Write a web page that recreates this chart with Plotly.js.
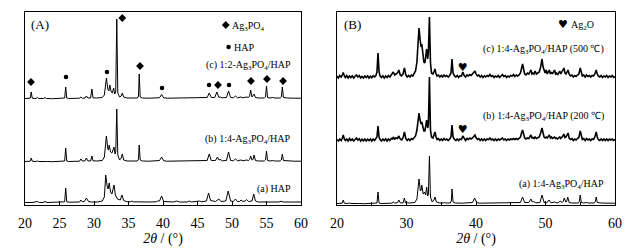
<!DOCTYPE html>
<html><head><meta charset="utf-8">
<script src="https://cdn.plot.ly/plotly-3.0.1.min.js"></script>
<style>html,body{margin:0;padding:0;background:#fff}#chart{width:639px;height:248px}</style>
</head><body><div id="chart"></div>
<script>
// ---- Data: [2theta (deg), relative intensity] ----
const A_c_12 = [[20,0.5],[20.6,0.5],[20.75,0.8],[20.9,7],[21.05,0.8],[21.6,0.5],[21.8,1.5],[22,0.5],[22.7,0.5],[22.9,1.5],[23.1,0.5],[24,0.3],[25.6,0.5],[25.75,1],[25.9,12],[26.05,1],[26.3,0.5],[27.5,0.5],[27.9,0.8],[28.1,2],[28.3,0.8],[28.7,1],[28.9,3],[29.1,1],[29.5,1],[29.7,10],[29.85,1.2],[30.4,1],[31.2,1.5],[31.5,4],[31.8,21],[32.0,10],[32.15,8],[32.3,14],[32.5,7],[32.65,6],[32.85,11],[33.0,5],[33.15,7],[33.3,80],[33.45,6],[33.7,2],[33.95,3],[34.1,6],[34.3,2],[34.8,1],[35.3,1],[35.5,1.5],[35.7,1],[36.3,1],[36.45,3],[36.55,25],[36.7,2],[37,1],[38,0.8],[39,1],[39.2,1.5],[39.5,1.3],[39.8,4.5],[40.1,1.2],[40.6,0.8],[41.5,0.8],[42,1.5],[42.4,0.8],[43.5,0.8],[43.8,1.5],[44.1,0.8],[45,1],[45.3,1.5],[45.6,1],[46.4,1.5],[46.7,6],[47,1.5],[47.5,1.5],[47.8,7],[48.1,1.5],[48.3,2],[48.6,1.2],[49.2,1.5],[49.5,8],[49.8,1.5],[50.2,1.2],[50.5,3],[50.8,1.2],[51.1,1.5],[51.3,2],[51.6,1.2],[51.9,1.5],[52.1,2],[52.4,1.5],[52.55,3],[52.7,9],[52.9,2],[53.2,5],[53.4,1.5],[53.8,1],[54.7,1],[54.85,2],[55,13],[55.15,1.5],[55.5,1],[55.9,1.5],[56.2,1],[57,1],[57.15,2],[57.3,12],[57.45,1.5],[58,1],[58.5,1.2],[59,0.8],[60,0.8]];
const A_b_14 = [[20,0.5],[20.6,0.5],[20.75,0.8],[20.9,4],[21.05,0.8],[21.6,0.5],[21.8,1],[22,0.5],[22.7,0.5],[22.9,1.2],[23.1,0.5],[24,0.3],[25.6,0.5],[25.75,1],[25.9,14],[26.05,1],[26.3,0.5],[27.5,0.5],[27.9,0.8],[28.1,3],[28.3,1],[28.7,1.2],[28.9,4],[29.1,1.2],[29.5,1],[29.7,6],[29.85,1.2],[30.4,1],[31.2,1.5],[31.5,5],[31.8,26],[32.0,13],[32.1,12],[32.2,17],[32.4,10],[32.6,9],[32.8,13],[32.9,15],[33.05,8],[33.15,10],[33.3,53],[33.45,7],[33.7,2],[33.95,4],[34.1,8],[34.3,2],[34.8,1],[35.3,1],[35.5,1.5],[35.7,1],[36.3,1],[36.45,3],[36.55,17],[36.7,2],[37,1],[38,0.8],[39,1],[39.2,1.5],[39.5,1.5],[39.8,5],[40.1,1.2],[40.6,0.8],[41.5,0.8],[42,1.5],[42.4,0.8],[43.5,0.8],[43.8,1.2],[44.1,0.8],[45,1],[45.3,1.2],[45.6,1],[46.4,1.5],[46.7,8],[47,1.5],[47.6,1.5],[47.9,5],[48.1,2],[48.3,2.5],[48.6,1.2],[49.2,1.5],[49.5,10],[49.8,1.5],[50.2,1.2],[50.5,3],[50.8,1.2],[51.1,1.5],[51.3,2],[51.6,1.2],[51.9,1.5],[52.1,2],[52.4,1.5],[52.55,2.5],[52.7,6],[52.9,2],[53.05,2.5],[53.2,7],[53.4,1.5],[53.8,1],[54.7,1],[54.85,2],[55,11],[55.15,1.5],[55.5,1],[55.9,1.5],[56.2,1],[57,1],[57.15,2],[57.3,8],[57.45,1.5],[58,1],[58.5,1.2],[59,0.8],[60,0.8]];
const A_a_HAP = [[20,0.5],[21,0.5],[21.8,1.5],[22.1,0.5],[22.6,0.5],[22.9,1.5],[23.2,0.5],[24,0.5],[25.6,0.5],[25.75,1.2],[25.9,15],[26.05,1.2],[26.4,0.8],[27.5,0.8],[27.9,1],[28.1,3],[28.3,1.2],[28.6,1.5],[28.9,5],[29.2,1.5],[29.6,1],[30.5,1],[31.2,2],[31.5,6],[31.7,28],[31.9,17],[32.05,14],[32.2,20],[32.4,11],[32.6,9],[32.8,16],[32.9,18],[33.1,8],[33.4,4],[33.8,3],[34.05,8],[34.3,2.5],[34.8,1.2],[35.3,1.2],[35.5,2],[35.7,1.2],[36.5,1],[38,1],[39,1.2],[39.2,2],[39.5,2],[39.8,7],[40.1,1.5],[40.7,1],[41.5,1],[42,2],[42.4,1],[43.5,1],[43.8,2],[44.1,1],[45,1.2],[45.3,2],[45.6,1.2],[46.3,2],[46.6,10],[46.9,2.5],[47.6,1.5],[48.1,4],[48.4,1.5],[49.1,2],[49.45,12],[49.8,2],[50.2,1.5],[50.5,4],[50.8,1.5],[51.1,1.5],[51.3,3],[51.6,1.5],[51.9,2],[52.1,3.5],[52.4,1.5],[52.9,2],[53.15,9],[53.4,2],[53.8,1],[55,1],[55.9,1.5],[56.2,1],[56.8,1],[57.1,1.8],[57.4,1],[58.5,1],[59.2,1],[60,1]];
const B_a_fresh = [[20,0.5],[20.6,0.5],[20.75,0.8],[20.9,4],[21.05,0.8],[21.6,0.5],[21.8,1],[22,0.5],[22.7,0.5],[22.9,1.2],[23.1,0.5],[24,0.3],[25.6,0.5],[25.75,1],[25.9,12],[26.05,1],[26.3,0.5],[27.5,0.5],[27.9,0.8],[28.1,2],[28.3,1],[28.7,1.2],[28.9,4],[29.1,1.2],[29.5,1],[29.7,6],[29.85,1.2],[30.4,1],[31.2,1.5],[31.5,5],[31.8,25],[32.0,13],[32.1,14],[32.2,19],[32.4,10],[32.6,12],[32.75,9],[32.9,17],[33.05,8],[33.15,10],[33.3,48],[33.45,7],[33.7,2],[33.95,4],[34.1,7],[34.3,2],[34.8,1],[35.3,1],[35.5,1.5],[35.7,1],[36.3,1],[36.45,3],[36.55,15],[36.7,2],[37,1],[38,0.8],[39,1],[39.2,1.5],[39.5,1.5],[39.8,6],[40.1,1.2],[40.6,0.8],[41.5,0.8],[42,1.5],[42.4,0.8],[43.5,0.8],[43.8,1.5],[44.1,0.8],[45,1],[45.3,1.2],[45.6,1],[46.4,1.5],[46.7,7],[47,1.5],[47.6,1.5],[47.9,5],[48.1,2],[48.3,2.5],[48.6,1.2],[49.2,1.5],[49.5,9],[49.8,1.5],[50.2,1.2],[50.5,4],[50.8,1.2],[51.1,1.5],[51.3,2],[51.6,1.2],[51.9,1.5],[52.1,3],[52.4,1.5],[52.55,2.5],[52.7,6],[52.9,2],[53.05,2.5],[53.2,7],[53.4,1.5],[53.8,1],[54.7,1],[54.85,2],[55,9],[55.15,1.5],[55.5,1],[55.9,1.5],[56.2,1],[57,1],[57.15,2],[57.3,7],[57.45,1.5],[58,1],[58.5,1.2],[59,0.8],[60,0.8]];
const B_b_200 = [[20,0.5],[20.2,-1],[20.4,1],[20.6,-0.5],[20.75,1.5],[20.9,5],[21.05,1],[21.2,-0.5],[21.4,1],[21.6,-1],[21.8,1.5],[22.0,-0.5],[22.2,1],[22.4,-1],[22.6,0.5],[22.8,2],[23.0,0],[23.2,1.2],[23.4,-1],[23.6,0.8],[23.8,-0.8],[24.0,1],[24.2,-1],[24.4,0.8],[24.6,-0.5],[24.8,1],[25.0,-1],[25.2,1],[25.4,-0.5],[25.6,1],[25.75,3],[25.9,14],[26.05,3],[26.2,0.5],[26.4,-1],[26.6,1],[26.8,-0.5],[27.0,1.2],[27.2,-1],[27.4,1],[27.6,-0.5],[27.8,1.5],[28.0,1],[28.1,3],[28.3,1],[28.5,2],[28.7,1.5],[28.9,4],[29.1,1],[29.3,0],[29.5,2],[29.7,8],[29.9,1.5],[30.1,-0.5],[30.3,1],[30.5,-0.5],[30.7,1.5],[30.9,0.5],[31.1,2],[31.3,4],[31.5,10],[31.65,20],[31.8,27],[31.95,20],[32.1,16],[32.2,18],[32.35,13],[32.5,9],[32.65,9],[32.8,17],[32.9,20],[33.05,12],[33.15,16],[33.3,63],[33.45,10],[33.6,3],[33.8,2],[33.95,5],[34.1,8],[34.25,3],[34.4,0.5],[34.6,1.5],[34.8,-0.5],[35.0,1],[35.2,-0.5],[35.4,1.5],[35.6,0],[35.8,1],[36.0,-0.5],[36.2,1],[36.4,3],[36.55,15],[36.7,3],[36.9,0.5],[37.1,-0.5],[37.3,1],[37.5,-0.5],[37.7,1],[37.9,0.5],[38.1,4],[38.3,1],[38.5,-0.5],[38.7,1.5],[38.9,0.5],[39.1,2],[39.3,1],[39.5,2],[39.7,4],[39.85,5],[40.0,2.5],[40.2,0.5],[40.4,1.5],[40.6,-0.5],[40.8,1],[41.0,-0.5],[41.2,1],[41.4,-0.5],[41.6,1],[41.8,0.5],[42.0,2],[42.2,0],[42.4,1],[42.6,-0.5],[42.8,1],[43.0,-0.5],[43.2,1],[43.4,0],[43.6,1],[43.8,2],[44.0,0],[44.2,1],[44.4,-0.5],[44.6,1],[44.8,0],[45.0,1],[45.2,0.5],[45.4,1.5],[45.6,0.5],[45.8,1.5],[46.0,0.5],[46.2,1.5],[46.4,3],[46.55,7],[46.7,10],[46.85,6],[47.0,2],[47.2,1],[47.4,2],[47.6,1.5],[47.75,3],[47.9,5],[48.05,2],[48.2,2.5],[48.35,1.5],[48.5,3],[48.7,1.5],[48.9,2],[49.1,3],[49.3,7],[49.5,12],[49.65,7],[49.8,3],[49.95,2],[50.1,3],[50.25,2],[50.4,4],[50.55,5],[50.7,2],[50.85,3],[51.0,1.5],[51.15,2.5],[51.3,3],[51.45,1.5],[51.6,2],[51.75,1],[51.9,2.5],[52.05,3],[52.2,1.5],[52.35,2.5],[52.5,4],[52.65,6],[52.8,2.5],[52.95,3],[53.1,5],[53.25,7],[53.4,2],[53.6,0.5],[53.8,1.5],[54.0,-0.5],[54.2,1],[54.4,0],[54.6,1.5],[54.8,2.5],[55.0,9],[55.15,3],[55.3,0.5],[55.5,1.5],[55.7,-0.5],[55.9,1.5],[56.1,0],[56.3,1],[56.5,-0.5],[56.7,1],[56.9,0.5],[57.1,3],[57.3,8],[57.45,3],[57.6,0.5],[57.8,-0.5],[58.0,1],[58.2,-0.5],[58.4,1],[58.6,-0.5],[58.8,1],[59.0,-0.5],[59.2,1],[59.4,0],[59.6,1],[59.8,-0.5],[60,0.5]];
const B_c_500 = [[20,1],[20.2,-1],[20.4,1.5],[20.6,0],[20.75,2],[20.9,4.5],[21.05,1],[21.2,-0.5],[21.4,1.5],[21.6,-1],[21.8,1],[22.0,-0.5],[22.2,1.2],[22.4,-1],[22.6,0.8],[22.8,2],[23.0,0],[23.2,1.5],[23.4,-1],[23.6,0.5],[23.8,-1],[24.0,1],[24.2,-0.5],[24.4,1.2],[24.6,-1],[24.8,0.8],[25.0,-0.8],[25.2,1.2],[25.4,0],[25.6,1.5],[25.75,5],[25.9,24],[26.05,5],[26.2,1],[26.4,-0.5],[26.6,1.2],[26.8,-1],[27.0,1],[27.2,-0.5],[27.4,1.5],[27.6,0],[27.8,2],[28.0,3],[28.1,5],[28.3,2],[28.5,3],[28.7,4],[28.9,7],[29.1,2],[29.3,1],[29.5,3],[29.7,9],[29.9,2],[30.1,0],[30.3,1.5],[30.5,0],[30.7,2],[30.9,1],[31.1,3],[31.3,6],[31.5,15],[31.65,35],[31.8,49],[31.95,38],[32.1,30],[32.2,33],[32.35,25],[32.5,15],[32.65,14],[32.8,24],[32.9,28],[33.05,18],[33.15,25],[33.3,60],[33.45,14],[33.6,4],[33.8,3],[33.95,5],[34.1,8],[34.25,3],[34.4,1],[34.6,2],[34.8,0],[35.0,1.5],[35.2,0],[35.4,2],[35.6,0.5],[35.8,1.5],[36.0,0],[36.2,1.5],[36.4,4],[36.55,18],[36.7,4],[36.9,1],[37.1,0],[37.3,1.5],[37.5,-0.5],[37.7,1.2],[37.9,1],[38.1,5],[38.3,1.5],[38.5,0],[38.7,2],[38.9,1],[39.1,2.5],[39.3,1.5],[39.5,3],[39.7,5],[39.85,6],[40.0,3],[40.2,1],[40.4,2],[40.6,0],[40.8,1.5],[41.0,-0.5],[41.2,1.2],[41.4,0],[41.6,1.5],[41.8,0.5],[42.0,2.5],[42.2,0.5],[42.4,1.5],[42.6,-0.5],[42.8,1],[43.0,0],[43.2,1.5],[43.4,-0.5],[43.6,1],[43.8,2.5],[44.0,0.5],[44.2,1.5],[44.4,-0.5],[44.6,1],[44.8,0],[45.0,1.5],[45.2,1],[45.4,2.5],[45.6,0.5],[45.8,2],[46.0,1],[46.2,2],[46.4,4],[46.55,9],[46.7,13],[46.85,8],[47.0,3],[47.2,2],[47.4,4],[47.6,3],[47.75,5],[47.9,7],[48.05,3],[48.2,4],[48.35,3],[48.5,6],[48.7,3],[48.9,4],[49.1,5],[49.3,10],[49.5,18],[49.65,10],[49.8,6],[49.95,4],[50.1,7],[50.25,3],[50.4,5],[50.55,7],[50.7,3],[50.85,5],[51.0,3],[51.15,6],[51.3,7],[51.45,3],[51.6,4],[51.75,2],[51.9,5],[52.05,6],[52.2,3],[52.35,5],[52.5,7],[52.65,9],[52.8,4],[52.95,3],[53.1,5],[53.25,7],[53.4,3],[53.6,1],[53.8,2],[54.0,0],[54.2,1.5],[54.4,0.5],[54.6,2],[54.8,3],[55.0,9],[55.15,4],[55.3,1],[55.5,2],[55.7,0],[55.9,2],[56.1,0.5],[56.3,1.5],[56.5,0],[56.7,1.5],[56.9,1],[57.1,3],[57.3,7],[57.45,3],[57.6,1],[57.8,0],[58.0,1.5],[58.2,-0.5],[58.4,1],[58.6,0],[58.8,1.5],[59.0,-0.5],[59.2,1],[59.4,0],[59.6,1.5],[59.8,-0.5],[60,0.5]];

// peak markers (2theta, plotted height)
const A_diamond_x = [20.87, 34.1, 36.67, 47.97, 52.75, 55.07, 57.4];
const A_diamond_y = [123, 187, 139, 120, 124, 126, 124];
const A_circle_x = [25.94, 31.88, 39.86, 46.67, 49.57];
const A_circle_y = [128, 133, 117, 120, 120];
const B_heart_x = [38.1, 38.1];
const B_heart_y = [137, 75];

const xTicksA = [20,25,30,35,40,45,50,55,60];
const xTicksB = [20,30,40,50,60];

// stacking offsets for each trace
const offA = {c: 106, b: 43, a: 2};
const offB = {c: 128, b: 65, a: 1};

const FONT = '"Liberation Serif", "Times New Roman", serif';

function line(pairs, off, xa, ya, w) {
  return {x: pairs.map(p => p[0]), y: pairs.map(p => p[1] + off), xaxis: xa, yaxis: ya,
    type: 'scatter', mode: 'lines', line: {color: '#000', width: w}, hoverinfo: 'skip', showlegend: false};
}

const data = [
  line(A_a_HAP, offA.a, 'x', 'y', 1),
  line(A_b_14, offA.b, 'x', 'y', 1),
  line(A_c_12, offA.c, 'x', 'y', 1),
  line(B_a_fresh, offB.a, 'x2', 'y2', 1),
  line(B_b_200, offB.b, 'x2', 'y2', 1.6),
  line(B_c_500, offB.c, 'x2', 'y2', 1.6),
  {x: A_diamond_x.concat([49.1]), y: A_diamond_y.concat([180]), xaxis: 'x', yaxis: 'y', type: 'scatter', mode: 'markers',
   marker: {symbol: 'diamond', size: 6, color: '#000'}, showlegend: false, hoverinfo: 'skip'},
  {x: A_circle_x.concat([49.5]), y: A_circle_y.concat([158]), xaxis: 'x', yaxis: 'y', type: 'scatter', mode: 'markers',
   marker: {symbol: 'circle', size: 4.5, color: '#000'}, showlegend: false, hoverinfo: 'skip'},
  {x: B_heart_x.concat([52.5]), y: B_heart_y.concat([180]), xaxis: 'x2', yaxis: 'y2', type: 'scatter', mode: 'text',
   text: ['♥','♥','♥'], textfont: {size: 11, color: '#000', family: 'DejaVu Sans'}, showlegend: false, hoverinfo: 'skip'}
];

function xax(domain, ticks, minor) {
  const ax = {domain: domain, range: [20, 60], tickmode: 'array', tickvals: ticks, ticks: 'inside', ticklen: 4,
    tickcolor: '#000', showline: true, linecolor: '#000', linewidth: 1, mirror: true, zeroline: false, showgrid: false,
    ticklabelstandoff: 5,
    tickfont: {family: FONT, size: 14, color: '#000'},
    title: {text: '<i>2θ</i> / (°)', font: {family: FONT, size: 14, color: '#000'}, standoff: 0}};
  if (minor) ax.minor = {tickvals: [25,35,45,55], ticks: 'inside', ticklen: 3, tickcolor: '#000'};
  return ax;
}
function yax(anchor) {
  return {range: [0, 193], showline: true, linecolor: '#000', linewidth: 1, mirror: true, showticklabels: false,
    ticks: '', zeroline: false, showgrid: false, anchor: anchor};
}

const tf = {family: FONT, size: 10, color: '#000'};
const ann = [
  {xref: 'x', yref: 'y', x: 20.6, y: 181, text: '(A)', showarrow: false, xanchor: 'left', font: {family: FONT, size: 13, color: '#000'}},
  {xref: 'x', yref: 'y', x: 49.7, y: 179, text: 'Ag<sub>3</sub>PO<sub>4</sub>', showarrow: false, xanchor: 'left', font: tf},
  {xref: 'x', yref: 'y', x: 50.0, y: 158, text: 'HAP', showarrow: false, xanchor: 'left', font: tf},
  {xref: 'x', yref: 'y', x: 58.8, y: 140, text: '(c) 1:2-Ag<sub>3</sub>PO<sub>4</sub>/HAP', showarrow: false, xanchor: 'right', font: tf},
  {xref: 'x', yref: 'y', x: 58.8, y: 66, text: '(b) 1:4-Ag<sub>3</sub>PO<sub>4</sub>/HAP', showarrow: false, xanchor: 'right', font: tf},
  {xref: 'x', yref: 'y', x: 58.8, y: 16, text: '(a) HAP', showarrow: false, xanchor: 'right', font: tf},
  {xref: 'x2', yref: 'y2', x: 20.7, y: 181, text: '(B)', showarrow: false, xanchor: 'left', font: {family: FONT, size: 13, color: '#000'}},
  {xref: 'x2', yref: 'y2', x: 53.4, y: 180, text: 'Ag<sub>2</sub>O', showarrow: false, xanchor: 'left', font: tf},
  {xref: 'x2', yref: 'y2', x: 58.7, y: 156, text: '(c) 1:4-Ag<sub>3</sub>PO<sub>4</sub>/HAP (500 ℃)', showarrow: false, xanchor: 'right', font: tf},
  {xref: 'x2', yref: 'y2', x: 58.7, y: 89, text: '(b) 1:4-Ag<sub>3</sub>PO<sub>4</sub>/HAP (200 ℃)', showarrow: false, xanchor: 'right', font: tf},
  {xref: 'x2', yref: 'y2', x: 58.7, y: 21, text: '(a) 1:4-Ag<sub>3</sub>PO<sub>4</sub>/HAP', showarrow: false, xanchor: 'right', font: tf}
];

const layout = {
  width: 639, height: 248, margin: {l: 0, r: 0, t: 12, b: 43},
  paper_bgcolor: '#fff', plot_bgcolor: '#fff', showlegend: false,
  xaxis: Object.assign(xax([25/639, 301/639], xTicksA, false), {anchor: 'y'}),
  yaxis: yax('x'),
  xaxis2: Object.assign(xax([337/639, 615/639], xTicksB, true), {anchor: 'y2'}),
  yaxis2: yax('x2'),
  annotations: ann
};

Plotly.newPlot('chart', data, layout, {staticPlot: true, displayModeBar: false});
</script></body></html>
